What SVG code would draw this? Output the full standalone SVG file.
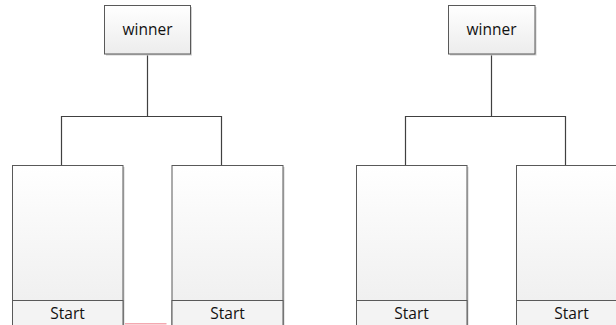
<svg xmlns="http://www.w3.org/2000/svg" width="616" height="325" viewBox="0 0 616 325">
  <defs>
    <linearGradient id="fillGrad" x1="0" y1="0" x2="0" y2="1">
      <stop offset="0" stop-color="#ffffff"/>
      <stop offset="1" stop-color="#ececec"/>
    </linearGradient>
  </defs>
  <style>
    .box { fill: url(#fillGrad); stroke: #595959; stroke-width: 1; }
    .shadow { fill: #cfcfcf; }
    .slot { fill: #f3f3f3; stroke: #595959; stroke-width: 1; }
    .conn { fill: none; stroke: #404040; stroke-width: 1.2; }
    .label { font-family: "Open Sans", "Liberation Sans", sans-serif; font-size: 15.5px; fill: #111111; text-anchor: middle; }
  </style>
  <rect width="616" height="325" fill="#ffffff"/>

  <g id="connectors">
    <path class="conn" d="M147.5 54 V116.5 M61.5 165 V116.5 H221.5 V165"/>
    <path class="conn" d="M491.5 54 V116.5 M405.5 165 V116.5 H565.5 V165"/>
  </g>

  <g id="winner-left">
    <rect class="shadow" x="106" y="7" width="86" height="48.5"/>
    <rect class="box" x="104.5" y="5.5" width="86" height="48.5"/>
    <text class="label" x="147.5" y="35">winner</text>
  </g>

  <g id="winner-right">
    <rect class="shadow" x="450" y="7" width="86.5" height="48.5"/>
    <rect class="box" x="448.5" y="5.5" width="86.5" height="48.5"/>
    <text class="label" x="491.5" y="35">winner</text>
  </g>

  <g id="player-left-1">
    <rect class="shadow" x="14" y="167" width="110.5" height="170"/>
    <rect class="box" x="12.5" y="165.5" width="110.5" height="170"/>
    <rect class="slot" x="12.5" y="300.5" width="110.5" height="35"/>
    <text class="label" x="67.5" y="318.5">Start</text>
  </g>

  <g id="player-left-2">
    <rect class="shadow" x="173.5" y="167" width="111" height="170"/>
    <rect class="box" x="172" y="165.5" width="111" height="170"/>
    <rect class="slot" x="172" y="300.5" width="111" height="35"/>
    <text class="label" x="227.5" y="318.5">Start</text>
  </g>

  <g id="player-right-1">
    <rect class="shadow" x="358" y="167" width="110.5" height="170"/>
    <rect class="box" x="356.5" y="165.5" width="110.5" height="170"/>
    <rect class="slot" x="356.5" y="300.5" width="110.5" height="35"/>
    <text class="label" x="411.5" y="318.5">Start</text>
  </g>

  <g id="player-right-2">
    <rect class="box" x="516.5" y="165.5" width="120" height="170"/>
    <rect class="slot" x="516.5" y="300.5" width="120" height="35"/>
    <text class="label" x="571.5" y="318.5">Start</text>
  </g>

  <line x1="125" y1="323.8" x2="166.5" y2="323.8" stroke="#f4a8b0" stroke-width="1.5"/>
</svg>
